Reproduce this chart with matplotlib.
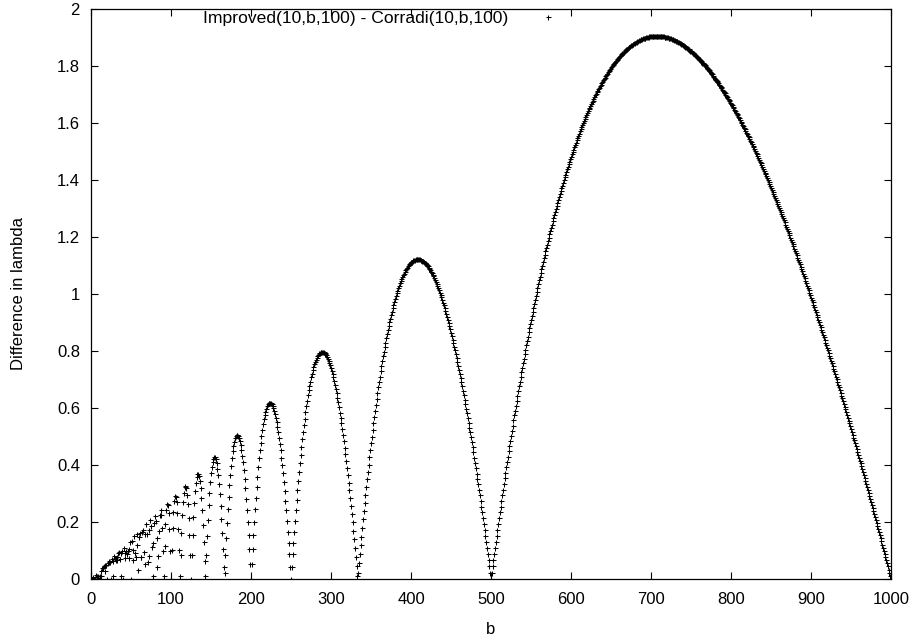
import numpy as np
import matplotlib
matplotlib.use("Agg")
import matplotlib.pyplot as plt

# curve: one point per integer b, arches between the
# zeros at TOTAL/k, peak of each arch at the geometric mean of its zeros
TOTAL = 1000          # zeros at 1000, 500, 333, 250, 200 ...
SCALE = 90            # tallest peak 1.905 at b ~ 707
b_values = np.arange(1, 1001)

x_ticks = [0, 100, 200, 300, 400, 500, 600, 700, 800, 900, 1000]
y_ticks = [0, 0.2, 0.4, 0.6, 0.8, 1.0, 1.2, 1.4, 1.6, 1.8, 2.0]
y_tick_labels = ["0", "0.2", "0.4", "0.6", "0.8", "1", "1.2", "1.4", "1.6", "1.8", "2"]
series_label = "Improved(10,b,100) - Corradi(10,b,100)"


def difference(b):
    t = TOTAL / b
    k = np.floor(t)
    return (t - k) * (k + 1 - t) * b / SCALE


plt.rcParams["font.family"] = ["Liberation Sans", "DejaVu Sans"]
plt.rcParams["font.size"] = 12

fig = plt.figure(figsize=(9.17, 6.39), dpi=100)
ax = fig.add_axes([91 / 917, 1 - 579 / 639, 800 / 917, 570 / 639])

ax.plot(b_values, difference(b_values), linestyle="none", marker="+",
        markersize=3.6, markeredgewidth=0.75, color="black", label=series_label)

ax.set_xlim(0, 1000)
ax.set_ylim(0, 2)
ax.set_xticks(x_ticks)
ax.set_yticks(y_ticks)
ax.set_yticklabels(y_tick_labels)
ax.tick_params(direction="in", length=5, width=0.8, top=True, right=True)
ax.tick_params(axis="x", pad=9)
ax.tick_params(axis="y", pad=8)
for s in ax.spines.values():
    s.set_linewidth(0.9)

ax.set_xlabel("b")
ax.set_ylabel("Difference in lambda")
ax.xaxis.set_label_coords(0.5, -0.076)
ax.yaxis.set_label_coords(-0.081, 0.5)

leg = fig.legend(loc="center", bbox_to_anchor=(385 / 917, 1 - 18 / 639),
                 frameon=False, markerfirst=False, handlelength=2.2,
                 handletextpad=1.2, borderpad=0, fontsize=12.6)
for h in leg.legend_handles:
    h.set_markersize(3.6)

fig.savefig("out.png", dpi=100)
